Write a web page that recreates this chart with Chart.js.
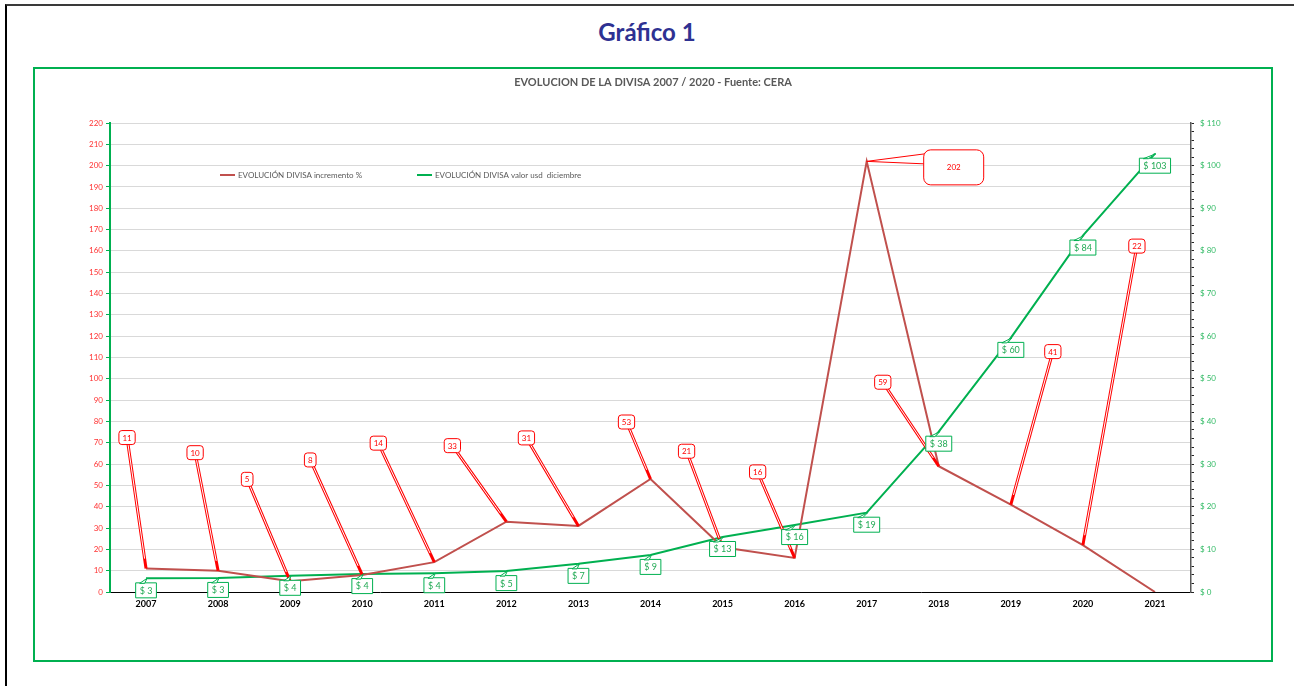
<!DOCTYPE html>
<html lang="es">
<head>
<meta charset="utf-8">
<title>Gráfico 1</title>
<script src="https://cdn.jsdelivr.net/npm/chart.js@4.4.1/dist/chart.umd.min.js"></script>
<style>
  html, body { margin: 0; background: #fff; overflow: hidden; font-family: Lato, "Noto Sans", sans-serif; }
  .frame { position: absolute; left: 5px; top: 4px; width: 1287px; height: 680px;
           border-top: 2px solid #3a3a3a; border-left: 2px solid #000; }
  h1 { position: absolute; left: 0; top: 16px; width: 1294px; margin: 0; text-align: center;
       font-size: 24px; line-height: 32px; font-weight: bold; color: #2E3192; }
  .box { position: absolute; left: 33px; top: 67px; width: 1236px; height: 591px;
         border: 2px solid #00B050; }
</style>
</head>
<body>
<div class="frame"></div>
<h1>Gráfico 1</h1>
<div class="box"><canvas id="chart" width="1236" height="591"></canvas></div>

<script>
// ---------------- DATA ----------------

const years = ["2007", "2008", "2009", "2010", "2011", "2012", "2013", "2014",
               "2015", "2016", "2017", "2018", "2019", "2020", "2021"];

// EVOLUCIÓN DIVISA incremento %
const incrementoPct = [11, 10, 5, 8, 14, 33, 31, 53, 21, 16, 202, 59, 41, 22, 0];

// EVOLUCIÓN DIVISA valor usd diciembre
const valorUsd = [3.2, 3.3, 3.8, 4.2, 4.4, 4.9, 6.6, 8.7, 12.9, 15.7, 18.6, 37.6, 59.6, 83.6, 102.8];

const pctAxis = { min: 0, max: 220, step: 10 };
const usdAxis = { min: 0, max: 110, step: 10 };

// ---------------- LABEL PLACEMENT (px from the point) ----------------

const redOffsets = [[-19, -131], [-23, -118], [-43, -102], [-52, -115], [-56, -119],
                    [-54, -76], [-52, -88], [-24, -57], [-36, -96], [-37, -86],
                    [87, 6], [-56, -84], [42, -153], [54, -299], null];
const bigCallout = 10;

const RED = "#C0504D";
const GREEN = "#00B050";
const LABEL_RED = "#FF0000";

// ---------------- PLUGINS ----------------

const callouts = {
    id: "callouts",
    afterDatasetsDraw(chart) {
        const ctx = chart.ctx;
        const red = chart.getDatasetMeta(0).data;
        const green = chart.getDatasetMeta(1).data;
        ctx.save();
        ctx.textAlign = "center";
        ctx.textBaseline = "middle";

        // red leader lines
        red.forEach((p, i) => {
            const off = redOffsets[i];
            if (!off || i === bigCallout) return;
            const bx = p.x + off[0], by = p.y + off[1];
            ctx.strokeStyle = LABEL_RED;
            ctx.lineWidth = 3;
            ctx.beginPath(); ctx.moveTo(bx, by); ctx.lineTo(p.x, p.y); ctx.stroke();
            const len = Math.hypot(off[0], off[1]);
            const k = (len - 10) / len;
            ctx.strokeStyle = "#fff";
            ctx.lineWidth = 1;
            ctx.beginPath(); ctx.moveTo(bx, by); ctx.lineTo(bx - off[0] * k, by - off[1] * k); ctx.stroke();
        });

        // green callouts
        ctx.font = "9px Lato";
        green.forEach((p, i) => {
            const txt = "$ " + Math.round(valorUsd[i]);
            const w = ctx.measureText(txt).width + 8, h = 15;
            const cx = p.x, cy = p.y + 12;
            const l = cx - w / 2, t = cy - h / 2;
            ctx.fillStyle = "#fff";
            ctx.strokeStyle = GREEN;
            ctx.lineWidth = 1;
            ctx.beginPath();
            ctx.rect(l, t, w, h);
            ctx.fill(); ctx.stroke();
            ctx.beginPath();
            ctx.moveTo(l + 4, t + 0.5);
            ctx.lineTo(p.x + 1, p.y);
            ctx.lineTo(l + 9, t + 0.5);
            ctx.closePath();
            ctx.fill(); ctx.stroke();
            ctx.fillStyle = "#22AA55";
            ctx.fillText(txt, cx, cy + 0.5);
        });

        // red boxes
        ctx.font = "8px Lato";
        red.forEach((p, i) => {
            const off = redOffsets[i];
            if (!off) return;
            const txt = String(incrementoPct[i]);
            const cx = p.x + off[0], cy = p.y + off[1];
            let w = ctx.measureText(txt).width + 7, h = 14, r = 3;
            if (i === bigCallout) { w = 60; h = 35; r = 7; }
            const l = cx - w / 2, t = cy - h / 2;
            ctx.fillStyle = "#fff";
            ctx.strokeStyle = LABEL_RED;
            ctx.lineWidth = 1;
            if (i === bigCallout) {
                ctx.beginPath();
                ctx.moveTo(l + 1, t + 4);
                ctx.lineTo(p.x, p.y);
                ctx.lineTo(l + 1, t + 14);
                ctx.stroke();
            }
            ctx.beginPath();
            ctx.roundRect(l, t, w, h, r);
            ctx.fill(); ctx.stroke();
            ctx.fillStyle = LABEL_RED;
            ctx.fillText(txt, cx, cy + 0.5);
        });
        ctx.restore();
    }
};

const innerLegend = {
    id: "innerLegend",
    afterDraw(chart) {
        const ctx = chart.ctx;
        const a = chart.chartArea;
        const items = [[110, 0], [307, 1]];
        ctx.save();
        ctx.font = "8px Lato";
        ctx.textBaseline = "middle";
        ctx.textAlign = "left";
        items.forEach(([dx, idx]) => {
            const ds = chart.data.datasets[idx];
            const x = a.left + dx, y = a.top + 52;
            ctx.strokeStyle = ds.borderColor;
            ctx.lineWidth = 2;
            ctx.beginPath(); ctx.moveTo(x, y); ctx.lineTo(x + 15, y); ctx.stroke();
            ctx.fillStyle = "#595959";
            ctx.fillText(ds.label, x + 18, y);
        });
        ctx.restore();
    }
};

// ---------------- CHART ----------------

const ctx = document.getElementById("chart").getContext("2d");

new Chart(ctx, {
    type: "line",
    data: {
        labels: years,
        datasets: [{
            label: "EVOLUCIÓN DIVISA incremento %",
            data: incrementoPct,
            borderColor: RED,
            backgroundColor: RED,
            borderWidth: 2,
            pointRadius: 0,
            tension: 0,
            yAxisID: "y"
        }, {
            label: "EVOLUCIÓN DIVISA valor usd  diciembre",
            data: valorUsd,
            borderColor: GREEN,
            backgroundColor: GREEN,
            borderWidth: 2,
            pointRadius: 0,
            tension: 0,
            yAxisID: "y1"
        }]
    },
    options: {
        responsive: false,
        animation: false,
        layout: { padding: 0 },
        plugins: {
            legend: { display: false },
            tooltip: { enabled: false },
            title: {
                display: true,
                text: "EVOLUCION DE LA DIVISA 2007 / 2020 - Fuente: CERA",
                color: "#595959",
                font: { family: "Lato", size: 11, weight: "bold" },
                padding: { top: 7, bottom: 33.8 }
            }
        },
        scales: {
            x: {
                offset: true,
                grid: { display: false, drawTicks: false },
                border: { display: true, color: "#000", width: 1 },
                ticks: {
                    color: "#000",
                    font: { family: "Lato", size: 9, weight: "bold" },
                    padding: 7,
                    maxRotation: 0,
                    autoSkip: false
                },
                afterFit: s => { s.height = 68; }
            },
            y: {
                position: "left",
                min: pctAxis.min,
                max: pctAxis.max,
                grid: { color: "#D9D9D9", lineWidth: 1, tickColor: GREEN, tickLength: 4 },
                border: { color: GREEN, width: 2 },
                ticks: {
                    stepSize: pctAxis.step,
                    color: "#FF3333",
                    font: { family: "Lato", size: 8 },
                    padding: 3,
                    autoSkip: false
                },
                afterFit: s => { s.width = 75; }
            },
            y1: {
                position: "right",
                min: usdAxis.min,
                max: usdAxis.max,
                grid: { drawOnChartArea: false, tickColor: "#222", tickLength: 3 },
                border: { color: "#595959", width: 1.5 },
                ticks: {
                    stepSize: 2,
                    color: "#33BB66",
                    font: { family: "Lato", size: 8 },
                    padding: 6,
                    autoSkip: false,
                    callback: v => (v % usdAxis.step === 0 ? "$ " + v : "")
                },
                afterFit: s => { s.width = 80; }
            }
        }
    },
    plugins: [callouts, innerLegend]
});
</script>
</body>
</html>
